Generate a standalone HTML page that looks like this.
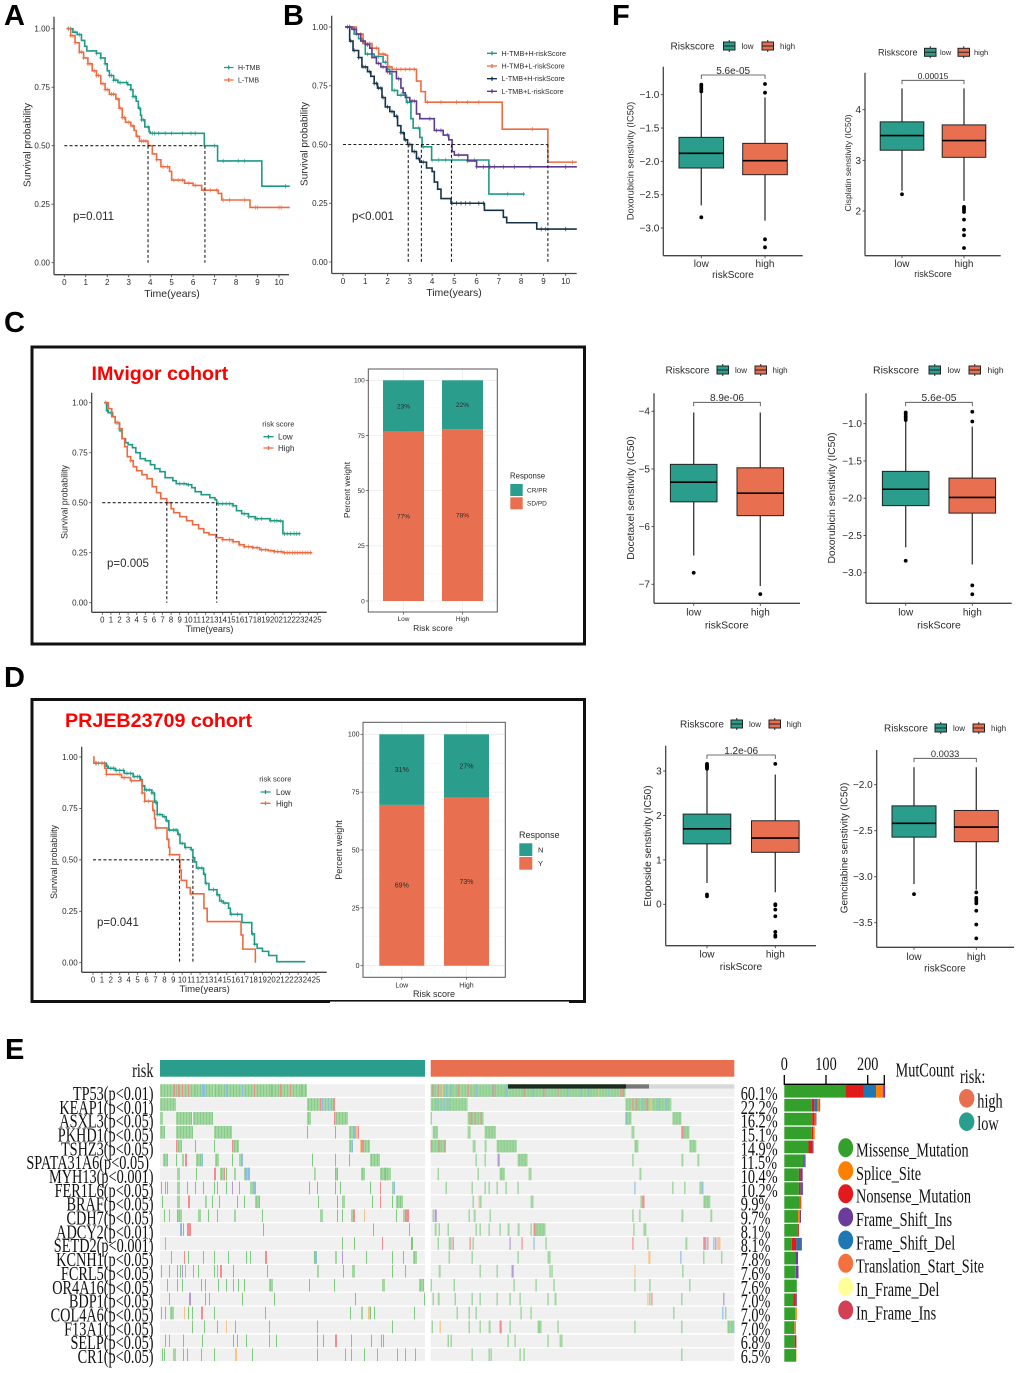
<!DOCTYPE html>
<html lang="en">
<head>
<meta charset="utf-8">
<title>Survival, response, drug sensitivity and mutation figure</title>
<style>
html,body{margin:0;padding:0;background:#fff}
svg{display:block;filter:blur(0.35px)}
text{font-family:"Liberation Sans",Arial,sans-serif;fill:#2a2a2a}
.letter{font-size:29px;font-weight:bold;fill:#000}
.cohort{font-size:19.7px;font-weight:bold;fill:#f00}
.serif{font-family:"Liberation Serif","Times New Roman",serif;font-size:14.3px;fill:#111}
.mid{text-anchor:middle}
</style>
</head>
<body>
<svg id="figure" xmlns="http://www.w3.org/2000/svg" width="1020" height="1373" viewBox="0 0 1020 1373">
<defs>
<g id="key-teal"><rect x="0" y="-4" width="11.5" height="8" fill="#2a9d8c" stroke="#222" stroke-width="1"/><path d="M0 0H11.5M5.75 -6V-4M5.75 4V6" stroke="#222" stroke-width="1"/></g>
<g id="key-orange"><rect x="0" y="-4" width="11.5" height="8" fill="#e87050" stroke="#222" stroke-width="1"/><path d="M0 0H11.5M5.75 -6V-4M5.75 4V6" stroke="#222" stroke-width="1"/></g>
</defs>

<!-- panel letters -->
<text class="letter" x="4" y="25">A</text>
<text class="letter" x="283" y="25">B</text>
<text class="letter" x="4" y="332">C</text>
<text class="letter" x="4" y="687">D</text>
<text class="letter" x="5" y="1059">E</text>
<text class="letter" x="612" y="25">F</text>

<!-- cohort frames -->
<rect x="32" y="347" width="552.5" height="297" fill="none" stroke="#111" stroke-width="3"/>
<rect x="32" y="699.5" width="552.5" height="302" fill="none" stroke="#111" stroke-width="3"/>
<rect x="330" y="1001.6" width="239" height="1.6" fill="#fff"/>
<text class="cohort" x="91.5" y="380">IMvigor cohort</text>
<text class="cohort" x="65" y="727">PRJEB23709 cohort</text>

<!-- KM chart groups -->
<g id="km-a"></g>
<g id="km-b"></g>
<g id="km-c"></g>
<g id="km-d"></g>

<!-- KM A static text -->
<text class="mid" font-size="10" transform="translate(30.5,145) rotate(-90)">Survival probability</text>
<text class="mid" font-size="10.5" x="172" y="297">Time(years)</text>
<text font-size="11.5" x="73" y="220">p=0.011</text>
<path d="M224 67.5h9.5M228.7 65.5v4" stroke="#1f9a86" stroke-width="1.3" fill="none"/>
<text font-size="7" x="238" y="70">H-TMB</text>
<path d="M224 80h9.5M228.7 78v4" stroke="#ee6a40" stroke-width="1.3" fill="none"/>
<text font-size="7" x="238" y="82.5">L-TMB</text>

<!-- KM B static text -->
<text class="mid" font-size="10" transform="translate(307.5,144) rotate(-90)">Survival probability</text>
<text class="mid" font-size="10.5" x="454" y="296">Time(years)</text>
<text font-size="11.5" x="352" y="220">p&lt;0.001</text>
<path d="M487 53.3h10M492 51.3v4" stroke="#1f9a86" stroke-width="1.3" fill="none"/>
<text font-size="7.2" x="501.5" y="55.8">H-TMB+H-riskScore</text>
<path d="M487 66h10M492 64v4" stroke="#ee6a40" stroke-width="1.3" fill="none"/>
<text font-size="7.2" x="501.5" y="68.5">H-TMB+L-riskScore</text>
<path d="M487 78.7h10M492 76.7v4" stroke="#14334a" stroke-width="1.3" fill="none"/>
<text font-size="7.2" x="501.5" y="81.2">L-TMB+H-riskScore</text>
<path d="M487 91.3h10M492 89.3v4" stroke="#5f3b8f" stroke-width="1.3" fill="none"/>
<text font-size="7.2" x="501.5" y="93.8">L-TMB+L-riskScore</text>

<!-- KM C static text -->
<text class="mid" font-size="8.8" transform="translate(67.5,502) rotate(-90)">Survival probability</text>
<text class="mid" font-size="9" x="209.5" y="632">Time(years)</text>
<text font-size="11.5" x="107" y="567">p=0.005</text>
<text font-size="7.5" x="262.3" y="426.5">risk score</text>
<path d="M263.5 436.7h10M268.5 434.7v4" stroke="#1f9a86" stroke-width="1.3" fill="none"/>
<text font-size="8" x="278" y="439.5">Low</text>
<path d="M263.5 448h10M268.5 446v4" stroke="#ee6a40" stroke-width="1.3" fill="none"/>
<text font-size="8" x="278" y="450.8">High</text>

<!-- KM D static text -->
<text class="mid" font-size="8.8" transform="translate(57,862) rotate(-90)">Survival probability</text>
<text class="mid" font-size="9.5" x="204.7" y="992">Time(years)</text>
<text font-size="11.5" x="97" y="926">p=0.041</text>
<text font-size="7.5" x="259.3" y="781.5">risk score</text>
<path d="M260.5 792h10M265.5 790v4" stroke="#1f9a86" stroke-width="1.3" fill="none"/>
<text font-size="8" x="276" y="795">Low</text>
<path d="M260.5 803.3h10M265.5 801.3v4" stroke="#ee6a40" stroke-width="1.3" fill="none"/>
<text font-size="8" x="276" y="806.3">High</text>

<!-- stacked bars -->
<g id="bar-c"></g>
<g id="bar-d"></g>
<text class="mid" font-size="8.5" transform="translate(350,490) rotate(-90)">Percent weight</text>
<text class="mid" font-size="8.5" x="433" y="631">Risk score</text>
<text font-size="7.8" x="510" y="478.5">Response</text>
<rect x="510.3" y="484" width="12.4" height="12" fill="#2a9d8c"/>
<rect x="510.3" y="497.3" width="12.4" height="12" fill="#e87050"/>
<text font-size="6.5" x="527" y="492.5">CR/PR</text>
<text font-size="6.5" x="527" y="505.5">SD/PD</text>
<text class="mid" font-size="9" transform="translate(342,850) rotate(-90)">Percent weight</text>
<text class="mid" font-size="9" x="434" y="997">Risk score</text>
<text font-size="9" x="519" y="838">Response</text>
<rect x="519.3" y="843.3" width="13" height="12.7" fill="#2a9d8c"/>
<rect x="519.3" y="857" width="13" height="12.7" fill="#e87050"/>
<text font-size="7.5" x="538" y="852.5">N</text>
<text font-size="7.5" x="538" y="866">Y</text>

<!-- box plots -->
<g id="box-1"></g>
<g id="box-2"></g>
<g id="box-3"></g>
<g id="box-4"></g>
<g id="box-5"></g>
<g id="box-6"></g>

<text class="mid" font-size="9.3" transform="translate(633.5,161) rotate(-90)">Doxorubicin senstivity (IC50)</text>
<text class="mid" font-size="10" x="733" y="278">riskScore</text>
<text font-size="10" x="670.5" y="49.5">Riskscore</text>
<use href="#key-teal" x="723.5" y="46"/>
<text font-size="8" fill="#444" x="741.5" y="49">low</text>
<use href="#key-orange" x="762" y="46"/>
<text font-size="8" x="780" y="49">high</text>

<text class="mid" font-size="8.6" transform="translate(851,163) rotate(-90)">Cisplatin senstivity (IC50)</text>
<text class="mid" font-size="9" x="933" y="277">riskScore</text>
<text font-size="9" x="878" y="55.5">Riskscore</text>
<use href="#key-teal" x="924.5" y="52.3"/>
<text font-size="7.5" x="940" y="55">low</text>
<use href="#key-orange" x="958" y="52.3"/>
<text font-size="7.5" x="974" y="55">high</text>

<text class="mid" font-size="10.4" transform="translate(634,498) rotate(-90)">Docetaxel senstivity (IC50)</text>
<text class="mid" font-size="10.5" x="726.7" y="628.5">riskScore</text>
<text font-size="10" x="665.5" y="373.5">Riskscore</text>
<use href="#key-teal" x="717" y="370"/>
<text font-size="8" x="735" y="373">low</text>
<use href="#key-orange" x="755" y="370"/>
<text font-size="8" x="772.5" y="373">high</text>

<text class="mid" font-size="10.3" transform="translate(835,498) rotate(-90)">Doxorubicin senstivity (IC50)</text>
<text class="mid" font-size="10.5" x="939" y="628.5">riskScore</text>
<text font-size="10.5" x="873" y="373.5">Riskscore</text>
<use href="#key-teal" x="929" y="370"/>
<text font-size="8.5" x="947.5" y="373">low</text>
<use href="#key-orange" x="969" y="370"/>
<text font-size="8.5" x="987.5" y="373">high</text>

<text class="mid" font-size="10.2" transform="translate(651,846) rotate(-90)">Etoposide senstivity (IC50)</text>
<text class="mid" font-size="10.2" x="741" y="970">riskScore</text>
<text font-size="10" x="680" y="727.5">Riskscore</text>
<use href="#key-teal" x="731" y="724"/>
<text font-size="8" x="749" y="727">low</text>
<use href="#key-orange" x="769" y="724"/>
<text font-size="8" x="786.5" y="727">high</text>

<text class="mid" font-size="10" transform="translate(847.5,848) rotate(-90)">Gemcitabine senstivity (IC50)</text>
<text class="mid" font-size="10" x="945" y="971.5">riskScore</text>
<text font-size="10" x="884" y="731.5">Riskscore</text>
<use href="#key-teal" x="935" y="728"/>
<text font-size="8" x="953" y="731">low</text>
<use href="#key-orange" x="973" y="728"/>
<text font-size="8" x="991" y="731">high</text>

<!-- oncoplot -->
<g id="onco"></g>
<g id="mutbars"></g>
<text class="serif" text-anchor="end" transform="translate(153.5,1077) scale(1,1.4)">risk</text>
<rect x="160" y="1060" width="265" height="16.7" fill="#2a9d8c"/>
<rect x="430.7" y="1060" width="303.6" height="16.7" fill="#e87050"/>
<text class="serif" transform="translate(895.5,1076.5) scale(1,1.4)">MutCount</text>
<text class="serif" transform="translate(960,1083) scale(1,1.4)">risk:</text>
<ellipse cx="966.7" cy="1098.3" rx="7.7" ry="9.3" fill="#e87050"/>
<text class="serif" transform="translate(977.3,1107.3) scale(1,1.4)">high</text>
<ellipse cx="966.7" cy="1121.7" rx="7.7" ry="9.3" fill="#2a9d8c"/>
<text class="serif" transform="translate(977.3,1130) scale(1,1.4)">low</text>

<ellipse cx="845.7" cy="1147.7" rx="7.5" ry="9.5" fill="#33a02c"/>
<text class="serif" transform="translate(856,1156.7) scale(1,1.4)">Missense_Mutation</text>
<ellipse cx="845.7" cy="1170.7" rx="7.5" ry="9.5" fill="#ff7f00"/>
<text class="serif" transform="translate(856,1180) scale(1,1.4)">Splice_Site</text>
<ellipse cx="845.7" cy="1193.7" rx="7.5" ry="9.5" fill="#e31a1c"/>
<text class="serif" transform="translate(856,1202.7) scale(1,1.4)">Nonsense_Mutation</text>
<ellipse cx="845.7" cy="1217" rx="7.5" ry="9.5" fill="#6a3d9a"/>
<text class="serif" transform="translate(856,1226) scale(1,1.4)">Frame_Shift_Ins</text>
<ellipse cx="845.7" cy="1240" rx="7.5" ry="9.5" fill="#1f78b4"/>
<text class="serif" transform="translate(856,1249.3) scale(1,1.4)">Frame_Shift_Del</text>
<ellipse cx="845.7" cy="1263.3" rx="7.5" ry="9.5" fill="#f4703f"/>
<text class="serif" transform="translate(856,1272.7) scale(1,1.4)">Translation_Start_Site</text>
<ellipse cx="845.7" cy="1286.7" rx="7.5" ry="9.5" fill="#ffff99"/>
<text class="serif" transform="translate(856,1296) scale(1,1.4)">In_Frame_Del</text>
<ellipse cx="845.7" cy="1310" rx="7.5" ry="9.5" fill="#d33f55"/>
<text class="serif" transform="translate(856,1319.3) scale(1,1.4)">In_Frame_Ins</text>
</svg>

<script>
/* ---------- Kaplan-Meier data ---------- */
const kmATicksX=[0,1,2,3,4,5,6,7,8,9,10];
const kmTicksS=[0,0.25,0.5,0.75,1];
const kmTickLabelsS=['0.00','0.25','0.50','0.75','1.00'];
const aHighT=[0.1,0.4,0.6,0.8,0.95,1.05,1.5,1.7,1.9,2.0,2.1,2.3,2.5,2.95,3.1,3.2,3.35,3.45,3.55,3.6,3.75,3.95,4.0,6.52,7.14,9.2,10.5];
const aHighS=[1,0.985,0.975,0.95,0.925,0.905,0.895,0.875,0.85,0.82,0.8,0.78,0.77,0.76,0.74,0.71,0.69,0.66,0.63,0.61,0.58,0.56,0.553,0.5,0.435,0.327,0.327];
const aHighC=[0.2,0.3,0.5,0.7,1.5,1.7,1.9,2.1,2.2,2.3,2.4,2.6,2.9,3.1,3.2,3.3,3.5,3.6,3.7,3.9,4.1,4.2,4.4,4.7,5.0,5.5,5.9,6.1,7.0,7.4,8.1,8.4,10.3];
const aLowT=[0.1,0.3,0.5,0.7,0.9,1.1,1.3,1.5,1.7,1.9,2.1,2.4,2.55,2.7,2.85,3.1,3.25,3.35,3.5,3.9,4.1,4.3,4.5,4.9,5.0,5.6,6.0,6.4,7.17,7.33,8.65,10.5];
const aLowS=[1,0.97,0.94,0.9,0.875,0.85,0.82,0.8,0.765,0.74,0.72,0.7,0.66,0.62,0.6,0.585,0.565,0.54,0.52,0.5,0.465,0.44,0.41,0.39,0.353,0.34,0.33,0.31,0.296,0.268,0.236,0.236];
const aLowC=[0.3,0.4,0.5,0.7,0.8,0.9,1.1,1.2,1.4,1.5,1.6,1.8,1.9,2.0,2.2,2.3,2.5,2.6,2.7,2.8,3.0,3.2,3.4,3.6,3.7,3.8,4.3,4.6,4.8,5.1,5.3,5.5,5.8,6.1,6.5,6.8,7.1,7.4,7.7,8.4,8.9,9.0,10.0,10.1];
const aMedians=[3.9,6.55];

const bHHT=[0.1,0.5,0.7,0.9,1.0,1.4,1.8,2.0,2.1,2.2,2.45,2.85,3.05,3.15,3.45,3.55,3.98,6.55,8.15];
const bHHS=[1,0.97,0.95,0.93,0.885,0.875,0.85,0.82,0.8,0.73,0.71,0.68,0.61,0.57,0.53,0.49,0.434,0.289,0.289];
const bHHC=[0.3,0.6,1.1,1.6,1.9,2.3,2.6,2.9,3.4,3.6,4.0,4.3,4.6,4.9,5.9,7.4,8.1];
const bHLT=[0.1,0.6,0.9,1.3,1.6,1.9,2.0,2.2,3.3,3.5,3.7,7.15,9.2,10.5];
const bHLS=[1,0.97,0.93,0.91,0.885,0.88,0.83,0.82,0.77,0.725,0.68,0.565,0.425,0.425];
const bHLC=[0.8,1.2,1.5,1.8,2.1,2.4,2.6,2.8,3.0,3.2,3.8,4.4,5.1,5.6,6.1,8.5,10.3];
const bLHT=[0.1,0.3,0.45,0.7,0.85,1.1,1.25,1.4,1.55,1.75,1.9,2.1,2.3,2.45,2.6,2.75,2.9,3.1,3.3,3.45,3.75,4.0,4.1,4.25,4.4,4.85,6.35,7.2,7.35,8.7,10.5];
const bLHS=[1,0.94,0.9,0.87,0.83,0.81,0.79,0.76,0.74,0.7,0.66,0.64,0.62,0.58,0.55,0.52,0.5,0.47,0.44,0.425,0.4,0.385,0.34,0.31,0.27,0.25,0.22,0.19,0.167,0.14,0.14];
const bLHC=[0.35,0.5,0.7,0.9,1.0,1.2,1.4,1.5,1.6,1.7,1.8,2.0,2.2,2.4,2.6,2.7,2.8,3.0,3.2,3.4,3.6,4.9,5.1,5.3,5.5,5.7,6.1,6.3,8.9,9.1,10.0];
const bLLT=[0.1,0.4,0.6,0.8,1.0,1.2,1.3,1.5,1.7,1.95,2.4,2.6,2.7,2.8,3.0,3.3,3.45,4.1,4.5,4.75,4.9,5.0,5.6,6.0,10.5];
const bLLS=[1,0.99,0.97,0.94,0.925,0.91,0.87,0.845,0.83,0.81,0.78,0.74,0.72,0.7,0.685,0.63,0.61,0.56,0.54,0.52,0.47,0.455,0.43,0.405,0.405];
const bLLC=[0.2,0.3,0.5,0.9,1.1,1.6,1.8,2.0,2.2,2.5,2.7,3.1,3.2,3.9,4.2,4.4,4.7,5.2,5.6,6.0,6.3,6.6,6.8,7.2,7.7,8.4,10.0];
const bMedians=[2.93,3.52,4.87,9.2];

const kmLongTicksX=[0,1,2,3,4,5,6,7,8,9,10,11,12,13,14,15,16,17,18,19,20,21,22,23,24,25];
const cLowT=[0.2,0.5,0.7,1.2,1.5,2,2.3,2.7,3,3.5,3.9,4.4,5,5.6,6.1,6.7,7.3,8.2,8.6,9.8,10.4,10.8,11.5,12.5,13.1,13.3,15.2,15.6,16.2,17,17.8,19.5,20.5,21,23];
const cLowS=[1,0.96,0.95,0.93,0.9,0.86,0.82,0.8,0.79,0.775,0.75,0.72,0.71,0.69,0.67,0.655,0.625,0.61,0.595,0.59,0.575,0.555,0.54,0.525,0.515,0.495,0.485,0.46,0.445,0.43,0.42,0.41,0.408,0.345,0.345];
const cLowC=[0.6,1.0,1.6,2.2,9,9.5,10,13.5,14,14.4,14.8,15.2,16.5,17,17.8,18,18.5,19.6,20,20.3,20.7,21.2,21.5,21.9,22.3,22.6,22.9];
const cHighT=[0.3,0.7,1.1,1.5,2,2.3,2.6,2.9,3.3,3.6,4,4.6,5.2,5.8,6.3,6.8,7.5,8,8.3,9,9.8,10.5,11.2,11.8,12.4,13.2,14,15.2,15.9,16.5,17.5,18.3,19.3,20,21,24.4];
const cHighS=[1,0.97,0.93,0.9,0.87,0.82,0.78,0.73,0.71,0.68,0.66,0.64,0.62,0.58,0.55,0.52,0.5,0.47,0.45,0.43,0.41,0.39,0.37,0.35,0.34,0.325,0.315,0.305,0.29,0.28,0.275,0.265,0.26,0.255,0.25,0.25];
const cHighC=[0.4,1.8,2,3.3,14,14.8,15.2,16,16.5,17,17.5,18,18.5,19,19.6,20,20.4,20.8,21.2,21.5,21.8,22.1,22.4,22.7,23,23.3,23.6,23.9,24.2];
const cMedians=[7.5,13.3];

const dLowT=[0,1.5,1.7,2.5,3.5,4.5,5.3,5.5,5.8,6.6,6.9,7.2,7.8,8.2,8.5,9.5,9.75,10.3,11,11.2,11.4,11.6,12.4,12.6,13,13.9,14.2,14.6,15.2,15.4,16.7,17.8,18.1,18.4,19,19.7,20.6,23.8];
const dLowS=[0.97,0.955,0.945,0.935,0.92,0.905,0.89,0.86,0.84,0.825,0.78,0.72,0.71,0.69,0.645,0.625,0.58,0.56,0.55,0.51,0.49,0.46,0.43,0.385,0.355,0.33,0.3,0.29,0.265,0.235,0.195,0.14,0.09,0.07,0.055,0.035,0.005,0.005];
const dLowC=[0.3,0.6,1,1.3,1.6,2,2.3,2.6,3,3.4,3.8,4.2,4.6,5,5.2,5.4,5.6,5.8,6,6.3,6.6,6.8,7,7.1,7.2,7.5,8,8.3,8.6,9,9.2,9.4,9.6,10,10.4,11,11.3,11.8,12.2,12.5,12.7,13.5,14,14.4,14.8,15.5,16.2,17.9,18.1];
const dHighT=[0,0.1,1.3,1.5,3.2,4.2,5.5,5.8,6.7,6.9,7,8.3,8.5,8.6,9.7,9.75,9.9,10.5,10.9,12.44,12.8,16.6,16.8,18.2];
const dHighS=[1,0.97,0.945,0.915,0.9,0.885,0.825,0.785,0.74,0.7,0.655,0.6,0.56,0.525,0.5,0.45,0.4,0.365,0.335,0.264,0.2,0.135,0.066,0];
const dHighC=[0.4,1,1.5,3,3.5,4.3,5.5,5.8,6.2,6.8,7.1,8.4,8.6,11];
const dMedians=[9.7,11.2];

/* ---------- stacked bar data ---------- */
const barCats=['Low','High'];
const barTicks=[0,25,50,75,100];
const barCResponder=[23.3,22.2];
const barCNonResponder=[76.7,77.8];
const barCLabelsTop=['23%','22%'];
const barCLabelsBottom=['77%','78%'];
const barDResponder=[30.5,27.4];
const barDNonResponder=[69.5,72.6];
const barDLabelsTop=['31%','27%'];
const barDLabelsBottom=['69%','73%'];

/* ---------- box plot data: [whiskerLow, q1, median, q3, whiskerHigh] ---------- */
const boxCats=['low','high'];
const doxTicks=[-1,-1.5,-2,-2.5,-3];
const doxTickLabels=['\u22121.0','\u22121.5','\u22122.0','\u22122.5','\u22123.0'];
const doxLow=[-2.66,-2.1,-1.88,-1.64,-0.97];
const doxHigh=[-2.89,-2.2,-1.99,-1.73,-1.04];
const doxLowOut=[-2.84,-0.85,-0.87,-0.9,-0.92,-0.95];
const doxHighOut=[-3.17,-3.29,-0.97,-0.84];
const doxP='5.6e-05';
const cisTicks=[2,3,4];
const cisTickLabels=['2','3','4'];
const cisLow=[2.4,3.2,3.49,3.76,4.42];
const cisHigh=[2.2,3.06,3.39,3.7,4.42];
const cisLowOut=[2.33];
const cisHighOut=[2.08,2.05,2.02,1.98,1.83,1.63,1.52,1.27];
const cisP='0.00015';
const docTicks=[-4,-5,-6,-7];
const docTickLabels=['\u22124','\u22125','\u22126','\u22127'];
const docLow=[-6.5,-5.57,-5.23,-4.92,-4.02];
const docHigh=[-7.03,-5.81,-5.42,-4.98,-4.02];
const docLowOut=[-6.8];
const docHighOut=[-7.17];
const docP='8.9e-06';
const etoTicks=[0,1,2,3];
const etoTickLabels=['0','1','2','3'];
const etoLow=[0.48,1.36,1.7,2.03,3.03];
const etoHigh=[0.27,1.17,1.49,1.88,2.92];
const etoLowOut=[0.18,0.22,3.05,3.08,3.1,3.12,3.14,3.16];
const etoHighOut=[3.16,0,-0.02,-0.12,-0.27,-0.62,-0.7,-0.73];
const etoP='1.2e-06';
const gemTicks=[-2,-2.5,-3,-3.5];
const gemTickLabels=['\u22122.0','\u22122.5','\u22123.0','\u22123.5'];
const gemLow=[-3.08,-2.57,-2.42,-2.23,-1.81];
const gemHigh=[-3.14,-2.62,-2.46,-2.28,-1.81];
const gemLowOut=[-3.19];
const gemHighOut=[-3.17,-3.23,-3.25,-3.27,-3.29,-3.37,-3.52,-3.67];
const gemP='0.0033';

/* ---------- oncoplot data ---------- */
const geneLabels=['TP53(p<0.01)','KEAP1(p<0.01)','ASXL3(p<0.05)','PKHD1(p<0.05)','TSHZ3(p<0.05)','SPATA31A6(p<0.05)','MYH13(p<0.001)','FER1L6(p<0.05)','BRAF(p<0.05)','CDH7(p<0.05)','ADCY2(p<0.01)','SETD2(p<0.001)','KCNH1(p<0.05)','FCRL5(p<0.05)','OR4A16(p<0.05)','BDP1(p<0.05)','COL4A6(p<0.05)','F13A1(p<0.05)','SELP(p<0.05)','CR1(p<0.05)'];
const genePercents=['60.1%','22.2%','16.2%','15.1%','14.9%','11.5%','10.4%','10.2%','9.9%','9.7%','8.1%','8.1%','7.8%','7.6%','7.6%','7.0%','7.0%','7.0%','6.8%','6.5%'];
const mutTicks=[0,100,200];
const mutMissense=[146,66,67,66,58,45,35,35,37,33,32,18,26,27,30,22,26,22,25,26];
const mutNonsense=[44,6,6,3,10,1,4,4,2,0,3,11,1,0,0,4,0,0,4,2];
const mutFrameDel=[30,8,0,0,0,2,0,4,0,0,0,10,0,0,0,0,0,2,0,0];
const mutSplice=[14,4,2,4,0,0,0,0,2,4,0,0,0,1,0,0,4,4,0,1];
const mutTranslation=[3,0,0,0,0,0,0,0,0,0,0,0,0,0,0,0,0,0,0,0];
const mutFrameIns=[5,2,2,0,2,3,5,2,0,3,0,3,6,6,0,4,0,0,0,0];
/* runs per gene: [first sample, sample count, type] m=missense n=nonsense d=frame-del i=frame-ins s=splice */
const lowRuns=[
[[0,147,'m'],[14,1,'n'],[18,1,'n'],[22,1,'n'],[28,1,'n'],[35,1,'d'],[42,1,'d'],[44,1,'d'],[53,1,'s'],[55,1,'n'],[59,1,'d'],[66,1,'d'],[73,1,'n'],[82,1,'d'],[94,1,'n'],[111,1,'n'],[120,1,'n'],[130,1,'n'],[141,1,'n'],[145,1,'n']],
[[0,16,'m'],[147,13,'m'],[160,1,'n'],[161,13,'m'],[162,1,'d'],[165,1,'d'],[168,1,'d'],[173,2,'n']],
[[0,3,'m'],[16,15,'m'],[31,1,'n'],[33,20,'m'],[147,4,'m'],[174,1,'n'],[175,13,'m']],
[[0,5,'m'],[16,17,'m'],[54,18,'m'],[147,1,'m'],[175,1,'m'],[189,5,'m'],[194,2,'d'],[196,2,'s'],[198,1,'n']],
[[16,1,'n'],[17,5,'m'],[35,1,'m'],[54,1,'m'],[72,1,'n'],[73,6,'m'],[189,4,'m'],[192,1,'d'],[200,1,'s'],[201,3,'n'],[204,6,'m']],
[[3,5,'m'],[16,1,'m'],[22,2,'m'],[25,2,'n'],[36,7,'m'],[42,1,'d'],[55,4,'m'],[72,1,'m'],[79,2,'m'],[81,2,'d'],[152,1,'m'],[175,1,'m'],[189,1,'m'],[210,10,'m']],
[[17,3,'m'],[36,1,'m'],[54,1,'n'],[55,1,'m'],[60,4,'m'],[64,1,'n'],[66,1,'m'],[74,2,'m'],[84,4,'m'],[86,1,'d'],[88,2,'d'],[154,2,'m'],[155,1,'s'],[175,1,'n'],[176,2,'m'],[177,1,'n'],[201,4,'m'],[220,8,'m'],[225,1,'i'],[228,3,'m']],
[[1,1,'m'],[5,1,'m'],[7,1,'m'],[17,3,'m'],[27,1,'m'],[35,1,'m'],[43,1,'m'],[54,1,'m'],[57,1,'n'],[66,1,'m'],[72,1,'i'],[79,1,'n'],[90,3,'m'],[93,3,'d'],[149,1,'n'],[157,1,'m'],[175,1,'n'],[180,1,'m'],[210,1,'m'],[220,1,'n'],[232,3,'m'],[234,1,'d']],
[[2,1,'m'],[17,3,'m'],[28,2,'n'],[45,2,'m'],[52,1,'m'],[59,1,'m'],[77,1,'m'],[84,1,'m'],[95,4,'m'],[99,1,'n'],[158,1,'m'],[177,1,'m'],[182,3,'m'],[212,1,'m'],[220,1,'n'],[232,1,'m'],[236,7,'m']],
[[4,1,'m'],[9,1,'d'],[17,1,'i'],[18,4,'m'],[38,3,'m'],[48,1,'m'],[57,1,'m'],[74,2,'m'],[102,1,'m'],[160,3,'m'],[177,1,'m'],[182,1,'m'],[191,2,'m'],[193,2,'n'],[204,1,'s'],[236,1,'m'],[243,2,'m'],[245,4,'n']],
[[20,1,'d'],[21,1,'m'],[23,1,'m'],[27,1,'m'],[28,3,'n'],[103,1,'m'],[213,1,'m'],[249,1,'m']],
[[5,1,'d'],[182,1,'m'],[194,1,'m'],[222,1,'n'],[251,1,'i'],[252,1,'m']],
[[11,1,'m'],[24,1,'n'],[28,1,'m'],[43,1,'m'],[54,1,'m'],[68,1,'m'],[86,1,'m'],[90,1,'m'],[105,2,'n'],[154,1,'m'],[155,1,'d'],[156,1,'d'],[175,2,'m'],[182,1,'i'],[206,1,'m'],[232,1,'m'],[243,1,'m'],[253,4,'m']],
[[1,1,'m'],[9,1,'m'],[17,1,'m'],[20,1,'m'],[22,1,'i'],[25,1,'d'],[33,1,'m'],[38,1,'m'],[54,1,'m'],[57,1,'d'],[60,2,'n'],[73,1,'m'],[107,1,'m'],[157,2,'m'],[183,1,'m'],[192,3,'m'],[232,1,'m'],[245,1,'m']],
[[7,1,'m'],[17,1,'m'],[22,1,'m'],[41,1,'m'],[45,1,'m'],[58,1,'m'],[66,1,'m'],[73,1,'m'],[78,1,'m'],[84,1,'m'],[109,4,'m'],[149,1,'m'],[174,1,'m'],[222,3,'m'],[259,5,'m']],
[[9,1,'m'],[29,2,'i'],[45,1,'n'],[49,1,'m'],[82,1,'m'],[114,1,'m'],[195,1,'m'],[264,1,'m']],
[[1,1,'m'],[5,1,'m'],[10,4,'m'],[24,1,'s'],[28,1,'m'],[32,1,'m'],[41,2,'n'],[54,1,'m'],[105,1,'m'],[190,1,'m'],[201,2,'m'],[208,2,'s'],[210,1,'m'],[214,1,'m'],[254,1,'m']],
[[32,1,'m'],[44,1,'m'],[57,1,'n'],[66,1,'s'],[75,1,'m'],[109,1,'m'],[157,1,'m'],[232,1,'m']],
[[5,1,'m'],[9,1,'m'],[23,1,'m'],[42,1,'m'],[73,1,'m'],[77,1,'m'],[86,1,'m'],[109,1,'n'],[116,1,'m'],[157,1,'m'],[163,1,'m'],[175,2,'n'],[191,1,'n'],[211,1,'m'],[221,1,'n'],[223,1,'m']],
[[2,1,'m'],[4,1,'m'],[13,3,'m'],[23,1,'m'],[27,1,'m'],[41,1,'m'],[54,1,'m'],[75,2,'s'],[92,1,'m'],[157,1,'m'],[185,1,'m'],[191,1,'m'],[204,1,'m'],[217,1,'m'],[237,1,'m'],[245,1,'n'],[255,1,'m']]
];
const highRuns=[
[[0,195,'m'],[2,1,'n'],[7,1,'n'],[11,1,'s'],[15,1,'d'],[20,1,'d'],[27,1,'n'],[37,1,'n'],[45,1,'d'],[62,1,'i'],[64,1,'n'],[75,1,'d'],[93,1,'n'],[102,1,'d'],[113,1,'n'],[118,1,'d'],[127,1,'n'],[137,1,'d'],[150,1,'d'],[158,1,'d'],[168,1,'s'],[178,1,'d'],[190,1,'n'],[192,1,'n']],
[[0,37,'m'],[6,1,'d'],[10,1,'d'],[13,1,'d'],[18,1,'d'],[195,46,'m'],[202,1,'n'],[206,1,'n'],[212,1,'d'],[216,1,'n'],[220,1,'s'],[228,1,'d'],[236,1,'d']],
[[0,1,'m'],[37,16,'m'],[40,1,'n'],[44,1,'n'],[50,1,'n'],[195,6,'m'],[195,1,'d'],[242,9,'m']],
[[2,5,'m'],[37,3,'m'],[54,11,'m'],[201,3,'m'],[251,2,'n'],[253,6,'m']],
[[0,15,'m'],[0,1,'n'],[8,1,'n'],[14,1,'n'],[42,3,'m'],[54,2,'m'],[66,20,'m'],[204,4,'m'],[259,7,'m']],
[[45,1,'m'],[54,1,'m'],[67,2,'i'],[87,10,'m'],[202,1,'m'],[251,2,'m'],[267,2,'m']],
[[7,1,'m'],[47,1,'m'],[69,5,'m'],[98,3,'m'],[209,2,'m']],
[[15,1,'m'],[41,1,'m'],[54,1,'m'],[58,1,'m'],[66,1,'m'],[75,1,'m'],[87,1,'m'],[204,1,'d'],[242,1,'m'],[254,1,'m'],[269,3,'m'],[272,1,'d']],
[[42,1,'m'],[48,1,'s'],[49,2,'m'],[100,3,'m'],[210,2,'m'],[212,2,'n'],[273,7,'m']],
[[2,1,'m'],[4,2,'i'],[38,1,'m'],[43,2,'m'],[59,1,'m'],[202,1,'m'],[209,1,'m'],[251,2,'m'],[280,2,'m']],
[[4,2,'m'],[8,1,'m'],[17,1,'m'],[45,1,'m'],[49,1,'m'],[58,1,'m'],[69,1,'m'],[77,2,'m'],[87,2,'m'],[100,1,'m'],[103,2,'n'],[105,10,'m'],[203,1,'m'],[213,3,'m']],
[[7,1,'m'],[18,3,'m'],[22,1,'n'],[39,1,'n'],[42,1,'m'],[79,1,'i'],[91,1,'n'],[103,1,'d'],[115,1,'m'],[202,1,'n'],[217,1,'m'],[255,2,'m'],[273,2,'n'],[275,1,'d'],[277,1,'n'],[283,1,'d'],[285,1,'i'],[287,3,'s']],
[[18,1,'m'],[41,1,'m'],[87,1,'m'],[117,3,'m'],[218,2,'s'],[250,1,'d'],[273,1,'m'],[291,1,'m']],
[[8,2,'m'],[49,1,'m'],[66,1,'m'],[81,2,'i'],[119,1,'m'],[121,1,'m'],[204,1,'s'],[252,1,'m']],
[[0,1,'m'],[23,1,'m'],[83,1,'m'],[105,1,'m'],[123,1,'m'],[204,1,'m'],[219,1,'m'],[259,1,'m']],
[[2,1,'m'],[7,2,'m'],[24,1,'m'],[41,1,'m'],[49,1,'m'],[66,1,'m'],[79,1,'m'],[89,1,'m'],[117,1,'m'],[124,2,'m'],[217,1,'s'],[219,1,'m'],[221,1,'n'],[251,1,'m'],[293,1,'i']],
[[26,1,'m'],[38,1,'m'],[45,1,'m'],[90,1,'m'],[100,1,'m'],[243,1,'m'],[292,1,'d'],[295,1,'m']],
[[1,1,'m'],[9,1,'s'],[38,1,'m'],[49,1,'m'],[58,2,'m'],[69,2,'n'],[79,1,'m'],[107,4,'m'],[127,1,'m'],[204,1,'m'],[251,1,'m'],[297,6,'m'],[303,1,'d']],
[[17,1,'m'],[20,1,'m'],[77,1,'m'],[84,1,'m'],[117,1,'m'],[129,3,'m']],
[[41,1,'m'],[58,1,'m'],[60,1,'m'],[89,1,'m'],[93,1,'m'],[251,1,'m']]
];

/* ---------- drawing helpers ---------- */
const NS='http://www.w3.org/2000/svg';
function el(tag,attrs,parent,text){
  const e=document.createElementNS(NS,tag);
  for(const k in attrs){e.setAttribute(k,attrs[k]);}
  if(text!==undefined){e.textContent=text;}
  parent.appendChild(e);
  return e;
}
function linear(v0,p0,v1,p1){return v=>p0+(v-v0)*(p1-p0)/(v1-v0);}
const TEAL='#1f9a86',ORANGE='#ee6a40',NAVY='#14334a',PURPLE='#5f3b8f';
const BOX_TEAL='#2a9d8c',BOX_ORANGE='#e87050';

function survAt(ts,ss,t){let v=ss[0];for(let i=0;i<ts.length;i++){if(ts[i]<=t){v=ss[i];}}return v;}

function drawKM(id,L,ticksX,series,medians){
  const g=document.getElementById(id);
  const x=linear(L.t0,L.x0,L.t1,L.x1),y=linear(0,L.y0,1,L.y1);
  const yAxis=el('line',{x1:L.ax,x2:L.ax,y1:L.top,y2:L.base,stroke:'#444','stroke-width':1.3},g);
  
  
  const xAxis=el('line',{x1:L.ax,x2:L.right,y1:L.base,y2:L.base,stroke:'#444','stroke-width':1.3},g);
  
  
  kmTicksS.forEach((v,i)=>{
    el('line',{x1:L.ax-2.5,x2:L.ax,y1:y(v),y2:y(v),stroke:'#444','stroke-width':0.8},g);
    const t=el('text',{x:L.ax-4,y:y(v)+2.8,'text-anchor':'end','font-size':8,fill:'#333'},g,kmTickLabelsS[i]);
    
    
  });
  ticksX.forEach(v=>{
    el('line',{x1:x(v),x2:x(v),y1:L.base,y2:L.base+2.5,stroke:'#444','stroke-width':0.8},g);
    const t=el('text',{x:x(v),y:L.base+L.labelGap,'text-anchor':'middle','font-size':L.tickFont,fill:'#333'},g,String(v));
    
    
  });
  series.forEach(s=>{
    let d='M'+x(s.t[0])+' '+y(s.s[0]);
    for(let i=1;i<s.t.length;i++){d+='H'+x(s.t[i])+'V'+y(s.s[i]);}
    const p=el('path',{d:d,fill:'none',stroke:s.color,'stroke-width':1.6},g);
    
    
    let c='';
    s.c.forEach(t=>{const px=x(t),py=y(survAt(s.t,s.s,t));c+='M'+(px-1.8)+' '+py+'h3.6M'+px+' '+(py-2.2)+'v4.4';});
    const m=el('path',{d:c,fill:'none',stroke:s.color,'stroke-width':0.8,opacity:0.8},g);
    
    
  });
  const maxM=Math.max.apply(null,medians);
  let d='M'+x(0)+' '+y(0.5)+'H'+x(maxM);
  medians.forEach(t=>{d+='M'+x(t)+' '+y(0.5)+'V'+y(0);});
  const dash=el('path',{d:d,fill:'none',stroke:'#222','stroke-width':1.1,'stroke-dasharray':'3 2.2'},g);
  
  
}

function drawBars(id,L,top,bottom,labelsTop,labelsBottom){
  const g=document.getElementById(id);
  const y=linear(0,L.y0,100,L.y100);
  const x=i=>L.cx[i];
  const bg=el('rect',{x:L.left,y:L.top,width:L.right-L.left,height:L.bottom-L.top,fill:'#fff'},g);
  
  
  barTicks.forEach((v,i)=>{
    el('line',{x1:L.left,x2:L.right,y1:y(v),y2:y(v),stroke:'#ececec','stroke-width':0.8},g);
    if(i<barTicks.length-1){el('line',{x1:L.left,x2:L.right,y1:y(v+12.5),y2:y(v+12.5),stroke:'#f3f3f3','stroke-width':0.5},g);}
    el('line',{x1:L.left-2.5,x2:L.left,y1:y(v),y2:y(v),stroke:'#444','stroke-width':0.7},g);
    const t=el('text',{x:L.left-3.5,y:y(v)+2.4,'text-anchor':'end','font-size':L.tickFont,fill:'#555'},g,String(v));
    
    
  });
  barCats.forEach((c,i)=>{
    el('line',{x1:x(i),x2:x(i),y1:L.top,y2:L.bottom,stroke:'#ececec','stroke-width':0.8},g);
    el('line',{x1:x(i),x2:x(i),y1:L.bottom,y2:L.bottom+2.5,stroke:'#444','stroke-width':0.7},g);
    const t=el('text',{x:x(i),y:L.bottom+L.catGap,'text-anchor':'middle','font-size':L.tickFont,fill:'#555'},g,c);
    
    
    const low=el('rect',{x:x(i)-L.hw,y:y(bottom[i]),width:L.hw*2,height:y(0)-y(bottom[i]),fill:BOX_ORANGE},g);
    
    
    const up=el('rect',{x:x(i)-L.hw,y:y(bottom[i]+top[i]),width:L.hw*2,height:y(bottom[i])-y(bottom[i]+top[i]),fill:BOX_TEAL},g);
    
    
    const a=el('text',{x:x(i),y:y(bottom[i]+top[i]/2)+2.3,'text-anchor':'middle','font-size':L.valFont,fill:'#222'},g,labelsTop[i]);
    
    
    const b=el('text',{x:x(i),y:y(bottom[i]/2)+2.3,'text-anchor':'middle','font-size':L.valFont,fill:'#222'},g,labelsBottom[i]);
    
    
  });
  const frame=el('rect',{x:L.left,y:L.top,width:L.right-L.left,height:L.bottom-L.top,fill:'none',stroke:'#555','stroke-width':1},g);
  
  
}

function drawBox(id,L,ticks,tickLabels,low,high,lowOut,highOut,pLabel){
  const g=document.getElementById(id);
  const y=linear(L.v0,L.p0,L.v1,L.p1);
  const xs=[L.xLow,L.xHigh];
  const ya=el('line',{x1:L.ax,x2:L.ax,y1:L.top,y2:L.base,stroke:'#444','stroke-width':1.3},g);
  
  
  const xa=el('line',{x1:L.ax,x2:L.right,y1:L.base,y2:L.base,stroke:'#444','stroke-width':1.3},g);
  
  
  ticks.forEach((v,i)=>{
    el('line',{x1:L.ax-2.5,x2:L.ax,y1:y(v),y2:y(v),stroke:'#444','stroke-width':0.9},g);
    const t=el('text',{x:L.ax-4,y:y(v)+3.4,'text-anchor':'end','font-size':10,fill:'#333'},g,tickLabels[i]);
    
    
  });
  [low,high].forEach((s,i)=>{
    const cx=xs[i];
    el('line',{x1:cx,x2:cx,y1:L.base,y2:L.base+2.5,stroke:'#444','stroke-width':0.9},g);
    const t=el('text',{x:cx,y:L.catY,'text-anchor':'middle','font-size':10,fill:'#333'},g,boxCats[i]);
    
    
    const w=el('line',{x1:cx,x2:cx,y1:y(s[0]),y2:y(s[4]),stroke:'#444','stroke-width':1.4},g);
    
    
    const b=el('rect',{x:cx-L.hw,y:y(s[3]),width:L.hw*2,height:y(s[1])-y(s[3]),fill:i===0?BOX_TEAL:BOX_ORANGE,stroke:'#222','stroke-width':1},g);
    
    
    const m=el('line',{x1:cx-L.hw,x2:cx+L.hw,y1:y(s[2]),y2:y(s[2]),stroke:'#000','stroke-width':1.6},g);
    
    
    (i===0?lowOut:highOut).forEach(v=>{
      const o=el('circle',{cx:cx,cy:y(v),r:1.9,fill:'#000'},g);
      
      
    });
  });
  const br=el('path',{d:'M'+xs[0]+' '+(L.bracket+4)+'V'+L.bracket+'H'+xs[1]+'V'+(L.bracket+4),fill:'none',stroke:'#444','stroke-width':0.8},g);
  
  
  const pt=el('text',{x:(xs[0]+xs[1])/2,y:L.bracket-1.2,'text-anchor':'middle','font-size':L.pFont,fill:'#333'},g,pLabel);
  
  
}

function drawOncoplot(){
  const g=document.getElementById('onco');
  const rowY=i=>1084.3+i*13.9;
  const rowH=12.6;
  const colors={m:'#a3d7a1',n:'#f48b8f',d:'#8fbde6',i:'#b49ad2',s:'#f9c48a'};
  const groups=[{x0:160,w:265,n:265,runs:lowRuns,name:'low'},{x0:430.7,w:303.6,n:304,runs:highRuns,name:'high'}];
  groups.forEach(G=>{
    const sw=G.w/G.n;
    geneLabels.forEach((gene,i)=>{
      const bg=el('rect',{x:G.x0,y:rowY(i),width:G.w,height:rowH,fill:'#f0f0f0'},g);
      
      
      G.runs[i].forEach(r=>{
        const fill=(r[2]==='m'&&r[1]===1)?'#7ccb7e':colors[r[2]];
        const c=el('rect',{x:G.x0+r[0]*sw,y:rowY(i),width:Math.max(r[1]*sw,0.9),height:rowH,fill:fill},g);
        
        
        if(r[2]==='m'&&r[1]>3){
          let stripes='';
          for(let k=1;k<r[1];k+=3){stripes+='M'+(G.x0+(r[0]+k+0.5)*sw)+' '+rowY(i)+'v'+rowH;}
          const st=el('path',{d:stripes,stroke:'#85cb87','stroke-width':0.9,fill:'none'},g);
          
          
        }
      });
    });
    /* re-draw non-missense single samples above the stripe texture */
    geneLabels.forEach((gene,i)=>{
      G.runs[i].forEach(r=>{
        if(r[2]!=='m'){
          const c=el('rect',{x:G.x0+r[0]*sw,y:rowY(i),width:Math.max(r[1]*sw,0.9),height:rowH,fill:colors[r[2]]},g);
          
          
        }
      });
    });
  });
  const strip=[[508,118,'#1d2a20'],[626,23,'#777'],[649,85.3,'#d8d8d8']];
  strip.forEach(s=>{
    const r=el('rect',{x:s[0],y:1084.3,width:s[1],height:4.3,fill:s[2]},g);
    
    
  });
  geneLabels.forEach((lab,i)=>{
    const base=1100+i*13.84;
    const anchor=i===5?149:153.5;
    const t=el('text',{class:'serif','text-anchor':'end',transform:'translate('+anchor+','+base+') scale(1,1.4)'},g,lab);
    
    
    const p=el('text',{class:'serif',transform:'translate(740.7,'+base+') scale(1,1.4)'},g,genePercents[i]);
    
    
  });
}

function drawMutBars(){
  const g=document.getElementById('mutbars');
  const x=linear(0,784.3,100,826);
  const rowY=i=>1085+i*13.9;
  const axis=el('path',{d:'M'+x(0)+' 1075V1084.3H884.3V1075M'+x(100)+' 1075V1084.3M'+x(200)+' 1075V1084.3',fill:'none',stroke:'#000','stroke-width':1.3},g);
  
  
  mutTicks.forEach(v=>{
    const t=el('text',{class:'serif','text-anchor':'middle',transform:'translate('+x(v)+',1070) scale(1,1.3)'},g,String(v));
    
    
  });
  const layers=[[mutMissense,'#33a02c','missense'],[mutNonsense,'#e31a1c','nonsense'],[mutFrameDel,'#1f78b4','frame-shift-del'],[mutSplice,'#ff7f00','splice-site'],[mutTranslation,'#f4703f','translation-start'],[mutFrameIns,'#6a3d9a','frame-shift-ins']];
  geneLabels.forEach((lab,i)=>{
    let acc=0;
    layers.forEach(l=>{
      const v=l[0][i];
      if(v<=0){return;}
      const r=el('rect',{x:x(acc),y:rowY(i),width:x(acc+v)-x(acc),height:12.6,fill:l[1]},g);
      
      
      acc+=v;
    });
  });
}

/* ---------- render ---------- */
drawKM('km-a',{t0:0,x0:64.3,t1:10,x1:279,y0:262.7,y1:28.7,ax:54,top:16.7,base:274.7,right:289,labelGap:10.5,tickFont:8},kmATicksX,[
  {t:aHighT,s:aHighS,c:aHighC,color:TEAL,name:'h-tmb'},
  {t:aLowT,s:aLowS,c:aLowC,color:ORANGE,name:'l-tmb'}],aMedians);
drawKM('km-b',{t0:0,x0:343,t1:10,x1:565.7,y0:262,y1:27,ax:331.7,top:15.7,base:273.5,right:576.7,labelGap:10.5,tickFont:8},kmATicksX,[
  {t:bHHT,s:bHHS,c:bHHC,color:TEAL,name:'h-tmb-h-risk'},
  {t:bHLT,s:bHLS,c:bHLC,color:ORANGE,name:'h-tmb-l-risk'},
  {t:bLHT,s:bLHS,c:bLHC,color:NAVY,name:'l-tmb-h-risk'},
  {t:bLLT,s:bLLS,c:bLLC,color:PURPLE,name:'l-tmb-l-risk'}],bMedians);
drawKM('km-c',{t0:0,x0:102.3,t1:25,x1:317.3,y0:602.7,y1:402.7,ax:91.7,top:392.7,base:612.3,right:326.7,labelGap:10,tickFont:7.8},kmLongTicksX,[
  {t:cLowT,s:cLowS,c:cLowC,color:TEAL,name:'low'},
  {t:cHighT,s:cHighS,c:cHighC,color:ORANGE,name:'high'}],cMedians);
drawKM('km-d',{t0:0,x0:93,t1:25,x1:316,y0:962.7,y1:757,ax:81.7,top:746.7,base:972.3,right:326.7,labelGap:10,tickFont:7.8},kmLongTicksX,[
  {t:dLowT,s:dLowS,c:dLowC,color:TEAL,name:'low'},
  {t:dHighT,s:dHighS,c:dHighC,color:ORANGE,name:'high'}],dMedians);

drawBars('bar-c',{left:368.3,right:497.3,top:369,bottom:612,y0:601,y100:380.3,cx:[403.5,462.5],hw:20.5,tickFont:6.5,valFont:6.5,catGap:9},barCResponder,barCNonResponder,barCLabelsTop,barCLabelsBottom);
drawBars('bar-d',{left:363,right:505.3,top:722.3,bottom:977.3,y0:965.7,y100:734.3,cx:[401.8,466.5],hw:22.5,tickFont:7,valFont:7,catGap:10},barDResponder,barDNonResponder,barDLabelsTop,barDLabelsBottom);

drawBox('box-1',{ax:663.3,top:66.7,base:255.7,right:802.7,v0:-1,p0:94.7,v1:-3,p1:228,xLow:701.3,xHigh:765,hw:22.3,catY:267,bracket:75,pFont:10},doxTicks,doxTickLabels,doxLow,doxHigh,doxLowOut,doxHighOut,doxP);
drawBox('box-2',{ax:865,top:72.7,base:255.7,right:1000.7,v0:4,p0:109.7,v1:2,p1:211,xLow:902,xHigh:964,hw:21.8,catY:267,bracket:80.3,pFont:8.5},cisTicks,cisTickLabels,cisLow,cisHigh,cisLowOut,cisHighOut,cisP);
drawBox('box-3',{ax:654,top:393.3,base:603.3,right:800,v0:-4,p0:411.3,v1:-7,p1:584.3,xLow:693.7,xHigh:760.3,hw:23.3,catY:615.5,bracket:402.3,pFont:10},docTicks,docTickLabels,docLow,docHigh,docLowOut,docHighOut,docP);
drawBox('box-4',{ax:866,top:393.3,base:603.3,right:1011.7,v0:-1,p0:423.7,v1:-3,p1:572.7,xLow:905.7,xHigh:972.3,hw:23.3,catY:615.5,bracket:402.3,pFont:10.3},doxTicks,doxTickLabels,doxLow,doxHigh,doxLowOut,doxHighOut,doxP);
drawBox('box-5',{ax:665.7,top:745.7,base:945.7,right:816,v0:3,p0:771,v1:0,p1:904.3,xLow:707,xHigh:775.3,hw:23.8,catY:957.5,bracket:755,pFont:10},etoTicks,etoTickLabels,etoLow,etoHigh,etoLowOut,etoHighOut,etoP);
drawBox('box-6',{ax:876.7,top:750,base:947.3,right:1014,v0:-2,p0:784.7,v1:-3.5,p1:922.7,xLow:914,xHigh:976.3,hw:22,catY:960,bracket:758.3,pFont:9.3},gemTicks,gemTickLabels,gemLow,gemHigh,gemLowOut,gemHighOut,gemP);

drawOncoplot();
drawMutBars();
</script>
</body>
</html>
